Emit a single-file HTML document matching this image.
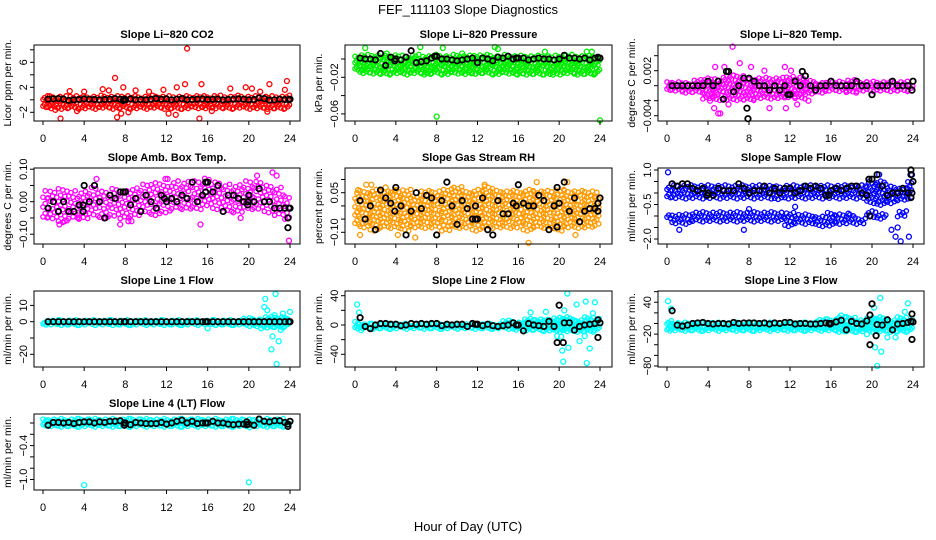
<!DOCTYPE html>
<html><head><meta charset="utf-8">
<style>
html,body{margin:0;padding:0;background:#fff;}
svg{display:block;font-family:"Liberation Sans",sans-serif;}
</style></head>
<body>
<svg id="chart" width="936" height="540" viewBox="0 0 936 540">
<text x="468" y="14" text-anchor="middle" font-size="13">FEF_111103  Slope Diagnostics</text>
<text x="468" y="531" text-anchor="middle" font-size="13">Hour of Day (UTC)</text>
</svg>
<script>
// ---------- data ----------
const xTicks = [0,4,8,12,16,20,24];
const binHours = [0,1,2,3,4,5,6,7,8,9,10,11,12,13,14,15,16,17,18,19,20,21,22,23,24];
const meanHours = [0.5,1,1.5,2,2.5,3,3.5,4,4.5,5,5.5,6,6.5,7,7.5,8,8.5,9,9.5,10,10.5,11,11.5,12,12.5,13,13.5,14,14.5,15,15.5,16,16.5,17,17.5,18,18.5,19,19.5,20,20.5,21,21.5,22,22.5,23,23.5,24];

// Panel 1: CO2
const p1Lo = [-1.2,-1.3,-1.3,-1.2,-1.3,-1.3,-1.2,-1.3,-1.2,-1.3,-1.3,-1.2,-1.3,-1.3,-1.3,-1.2,-1.3,-1.2,-1.3,-1.2,-1.3,-1.3,-1.3,-1.3,-1.2];
const p1Hi = [0.8,0.9,0.9,0.8,0.9,0.9,1.0,0.9,0.9,0.9,0.9,0.9,1.0,1.0,0.9,0.9,0.9,0.9,0.8,0.9,0.9,0.9,0.9,1.0,0.8];
const p1OutX = [14,1.7,15.2,7,23.7,22,13.8,7.8,7.2,12.2,2.6,19.7,9,1.2,4,5.8,6.4,10.3,13,15.4,18.2,21.1,23.5,8.3,3.3,16.4,11.7,20.3,7.6,21.8,12.9];
const p1OutY = [8.2,-3.0,-3.0,3.5,3.0,2.5,2.5,2.0,-2.8,-2.2,1.4,2.0,1.5,-1.6,1.3,1.7,1.5,1.3,2.0,2.5,1.8,1.3,1.6,-2.0,-1.8,-1.8,1.6,1.8,-2.2,-1.9,-2.4];
const p1Mean = [0.1,0.15,0.2,0.1,-0.1,0,0.05,0.15,0.1,0.05,0,0.05,0.1,0.2,0.1,0,0.15,0,0.05,0,0.1,0.2,0.1,0.15,0,0.1,0.2,0,0.05,0.1,0.15,0.05,0.1,0.1,0,0.05,0.1,0.15,0.1,0,0.05,0.3,0.2,-0.05,0,0.1,0.05,0.1];
const p1ExX = [7.8,7.9,23.9];
const p1ExY = [-0.1,0.1,0.0];

// Panel 2: Pressure
const p2Lo = [-0.012,-0.015,-0.015,-0.016,-0.015,-0.016,-0.015,-0.016,-0.015,-0.016,-0.015,-0.016,-0.015,-0.015,-0.016,-0.015,-0.016,-0.016,-0.016,-0.016,-0.016,-0.015,-0.016,-0.016,-0.014];
const p2Hi = [0.003,0.005,0.005,0.005,0.005,0.005,0.006,0.006,0.006,0.005,0.005,0.005,0.005,0.005,0.006,0.005,0.005,0.006,0.006,0.005,0.005,0.005,0.005,0.006,0.004];
const p2OutX = [1,6.4,8.6,13.7,14,18.6,22.7,23.2,0.7,7,8,24,11.8,15.9,19.4,21.5,23.5,3.1,10.5];
const p2OutY = [0.012,0.013,0.012,0.013,0.011,0.008,0.008,0.008,-0.012,-0.015,-0.063,-0.067,-0.016,-0.017,-0.017,-0.016,-0.016,0.006,0.006];
const p2Mean = [0.001,0,0,-0.001,0.006,-0.007,0.002,0,-0.001,0.002,0.009,-0.004,-0.003,-0.002,0.001,0.003,0,0,-0.001,-0.002,-0.001,0,0.001,-0.004,0.001,0,-0.002,0.002,0.001,0.003,0,0.001,0.001,-0.001,0,0.001,0,0,-0.001,0,0.004,0.001,0.001,0,0.001,-0.001,0.001,0.001];
const p2ExX = [3.9,7.8,15.8,23.8];
const p2ExY = [-0.002,0.003,0.001,0.002];

// Panel 3: Li-820 Temp
const p3Lo = [-0.0006,-0.0006,-0.0008,-0.0008,-0.0016,-0.0018,-0.0018,-0.0018,-0.0018,-0.0016,-0.0016,-0.0016,-0.0014,-0.0016,-0.001,-0.0008,-0.0006,-0.0006,-0.0008,-0.0006,-0.0006,-0.0006,-0.0006,-0.0006,-0.0004];
const p3Hi = [0.0006,0.0006,0.0006,0.0008,0.0012,0.0012,0.0014,0.0014,0.0012,0.0012,0.0012,0.0012,0.0014,0.0014,0.001,0.0006,0.0006,0.0006,0.0008,0.0006,0.0006,0.0006,0.0006,0.0006,0.0006];
const p3OutX = [6.4,7.1,4.7,8.2,5.6,11.5,4.6,5.0,5.2,10,11.6,12.7,13.8,6,4.2,9.5,12.1];
const p3OutY = [0.0052,0.003,0.0025,0.0025,0.0025,0.0025,-0.003,-0.0037,-0.0037,-0.003,-0.003,-0.0025,-0.002,-0.0025,-0.002,0.002,0.002];
const p3Mean = [0,0,0,0,0,0,0,0.0006,0,0.0006,-0.0018,0.0019,-0.0008,0,0.001,0.001,0.0006,0,0,-0.0006,0,-0.0006,0,-0.0012,0.0006,0,0.0013,0,-0.0006,0,0,0.0006,0,0,0,0,0.0006,0,0,-0.0012,0,0,0,0.0006,0,0,0,0.0006];
const p3ExX = [7.8,7.9,11.8,23.9,5.8,13.2];
const p3ExY = [-0.003,-0.0044,-0.0012,-0.0006,0.0019,0.0019];

// Panel 4: Amb Box Temp
const p4Lo = [-0.05,-0.05,-0.06,-0.05,-0.05,-0.04,-0.05,-0.04,-0.05,-0.04,-0.03,-0.04,-0.03,-0.02,-0.02,-0.02,-0.01,-0.02,-0.03,-0.03,-0.02,-0.02,-0.03,-0.04,-0.05];
const p4Hi = [0.03,0.03,0.04,0.04,0.03,0.04,0.04,0.05,0.04,0.05,0.05,0.06,0.06,0.07,0.07,0.07,0.08,0.06,0.05,0.05,0.06,0.07,0.05,0.04,0.02];
const p4OutX = [5.2,1.6,2.1,7.5,8.3,8.6,15.3,12.1,11.9,19.2,20.8,22.3,22.7,23.9,6.1,3.5];
const p4OutY = [0.07,-0.07,-0.06,-0.07,-0.06,-0.06,-0.07,0.07,0.07,-0.05,0.08,0.09,0.08,-0.12,-0.05,-0.05];
const p4Mean = [-0.02,0.0,-0.03,0.0,-0.03,-0.03,-0.01,0.05,0.0,0.05,0.0,-0.05,0.02,0.01,0.03,0.03,-0.01,0.01,-0.03,0.02,0.0,-0.02,0.02,0.0,0.01,0.0,0.02,0.01,0.06,0.0,0.02,0.06,0.03,0.05,-0.03,0.02,0.02,0.01,0.0,0.02,0.0,0.04,0.0,0.0,-0.02,-0.02,-0.02,-0.02];
const p4ExX = [23.8,23.8,23.9,11.8,15.8,15.8,7.8,3.9,3.9,19.9,19.9];
const p4ExY = [-0.08,-0.05,-0.02,0.01,0.03,0.06,0.03,-0.01,-0.03,0.0,-0.01];

// Panel 5: Gas Stream RH
const p5Lo = [-0.07,-0.08,-0.09,-0.08,-0.08,-0.09,-0.08,-0.08,-0.08,-0.09,-0.08,-0.08,-0.09,-0.08,-0.08,-0.08,-0.08,-0.09,-0.08,-0.08,-0.09,-0.08,-0.08,-0.08,-0.07];
const p5Hi = [0.05,0.06,0.06,0.06,0.06,0.06,0.05,0.06,0.06,0.06,0.07,0.06,0.06,0.07,0.06,0.06,0.06,0.06,0.06,0.06,0.07,0.06,0.06,0.06,0.05];
const p5OutX = [0.5,1.1,1.6,4.2,5.9,17.8,17,20.8,12.7,0.3,3,4,21.6];
const p5OutY = [-0.11,0.08,0.08,-0.11,-0.12,0.09,-0.14,0.09,0.08,0.06,0.07,0.06,-0.11];
const p5Mean = [0.02,-0.05,0.0,-0.09,0.06,0.03,0.01,0.07,0.0,-0.11,-0.02,0.05,-0.01,0.04,0.03,-0.11,0.02,0.09,0.0,-0.07,0.02,-0.01,-0.05,-0.05,0.03,-0.09,-0.11,0.02,-0.03,-0.03,0.01,0.08,0.01,0.0,0.0,0.04,0.02,-0.09,0.0,0.01,0.09,-0.02,0.03,-0.06,-0.02,-0.01,-0.01,0.03];
const p5ExX = [11.8,11.8,19.8,19.8,23.8,23.8,15.8,3.9];
const p5ExY = [-0.05,0.0,-0.08,0.07,0.01,-0.02,0.0,-0.02];

// Panel 6: Sample Flow (two clusters)
const p6Lo = [-0.2,-0.2,-0.2,-0.2,-0.2,-0.2,-0.2,-0.2,-0.2,-0.2,-0.2,-0.25,-0.2,-0.2,-0.2,-0.2,-0.2,-0.2,-0.2,-0.2,-0.4,-0.5,-0.4,-0.3,-0.2];
const p6Hi = [0.4,0.35,0.35,0.35,0.35,0.35,0.35,0.35,0.35,0.35,0.35,0.35,0.45,0.35,0.35,0.4,0.35,0.4,0.4,0.35,0.5,0.5,0.3,0.2,0.6];
const p6Lo2 = [-1.1,-1.3,-1.3,-1.2,-1.2,-1.2,-1.2,-1.2,-1.2,-1.2,-1.2,-1.2,-1.4,-1.3,-1.3,-1.4,-1.4,-1.3,-1.3,-1.3,-1.0,-1.1,null,-1.0,null];
const p6Hi2 = [-0.85,-0.85,-0.9,-0.85,-0.85,-0.85,-0.85,-0.85,-0.8,-0.85,-0.85,-0.8,-0.75,-0.9,-0.95,-1.0,-0.85,-0.85,-0.9,-1.0,-0.7,-0.8,null,-0.8,null];
const p6OutX = [22.3,22.8,23.6,21.9,23.9,19.7,0.1,20.7,1.2,7.5,12.5,17.7,22.5,8];
const p6OutY = [-1.9,-2.1,-1.9,-1.6,0.8,0.6,0.9,0.8,-1.6,-1.6,-0.6,-0.9,-1.5,-0.7];
const p6Mean = [0.4,0.3,0.4,0.4,0.2,0.1,0.2,0.0,-0.1,0.2,0.1,0.1,0.1,0.4,0.2,0.0,0.1,0.1,0.3,0.0,0.2,0.0,0.2,0.2,0.0,0.1,0.3,0.2,0.3,0.2,-0.1,0.1,0.2,0.1,0.2,0.3,0.3,0.0,-0.1,0.6,0.8,0.3,-0.1,0.0,0.0,0.2,0.0,0.5];
const p6ExX = [19.8,19.7,23.8,23.8,23.8,23.9,3.9,15.8];
const p6ExY = [-1.0,0.6,1.0,0.8,-0.2,0.0,-0.1,-0.1];

// Panel 7: Line 1 Flow
const p7Lo = [-2,-1.5,-1.5,-1.5,-1.5,-1.5,-1.5,-1.5,-1.5,-1.5,-1.5,-1.5,-1.5,-1.5,-1.5,-1.5,-1.5,-1.5,-1.5,-1.5,-2,-2.5,-3,-3,-2];
const p7Hi = [1.5,1.5,1.5,1.5,1.5,1.5,1.5,1.5,1.5,1.5,1.5,1.5,1.5,1.5,1.5,1.5,1.5,1.5,1.5,1.5,2,2.5,3,3,2];
const p7OutX = [21.5,21.6,22.6,21.8,22.2,22.7,22.3,22.9,23.1,23.3,24,16,21.2,22.5,23.6];
const p7OutY = [9,14,17,7,-17,-26,-9,-12,-5,5,6,-4,-4,4,2];
const p7Mean = [0,0,0,0,0,0,0,0,0,0,0,0,0,0,0,0,0,0,0,0,0,0,0,0,0,0,0,0,0,0,0,0,0,0,0,0,0,0,0,0,0,0,0,0,0,0,0,0];
const p7ExX = [7.9,15.8,23.9];
const p7ExY = [0,0,0];

// Panel 8: Line 2 Flow
const p8Lo = [-5,-4,-4,-4,-4,-4,-4,-4,-4,-4,-4,-4,-4,-4,-4,-4,-6,-6,-6,-7,-8,-8,-8,-8,-6];
const p8Hi = [5,4,4,4,4,4,4,4,4,4,4,4,4,4,4,5,7,8,8,9,10,10,9,10,8];
const p8OutX = [0.2,0.4,20.8,21.7,22.6,23.5,20.5,18.7,17.2,20.4,22.7,20.3,23,20.9,19.8,20.2,22,22.5,0.6,23.3];
const p8OutY = [28,17,43,28,32,31,20,18,17,-50,-52,-35,-32,-31,-15,-16,-22,-15,-7,16];
const p8Mean = [10,-2,-5,0,2,2,1,1,-1,0,2,1,2,1,2,2,-1,1,0,1,1,-2,2,1,-1,1,-1,-2,-1,0,3,0,-8,2,0,-1,-2,5,-2,27,3,3,-7,-2,0,1,2,3];
const p8ExX = [19.8,20.4,23.8,23.8,15.8,11.8];
const p8ExY = [-24,-24,-17,7,0,1];

// Panel 9: Line 3 Flow
const p9Lo = [-14,-12,-12,-12,-12,-12,-12,-12,-12,-12,-12,-12,-12,-12,-12,-12,-12,-14,-14,-14,-14,-14,-14,-14,-12];
const p9Hi = [6,6,6,6,6,6,6,6,6,6,6,6,6,6,6,7,8,12,12,10,12,12,10,12,10];
const p9OutX = [0.1,0.4,20.8,20.5,20.3,20.9,23.5,17,20.2,22.3,19.5,23.2,21.5];
const p9OutY = [42,28,48,-80,-45,-53,38,15,30,-26,-20,22,-26];
const p9Mean = [24,-3,-5,-3,0,1,2,0,-1,0,0,-1,2,0,1,1,1,0,1,-1,1,0,2,2,-1,0,0,-1,-1,0,1,0,3,6,-12,4,0,-1,5,37,-2,-3,7,-12,-1,0,2,3];
const p9ExX = [19.8,19.8,20.4,23.9,23.9,23.8,15.8,15.9];
const p9ExY = [-40,16,-23,-30,18,4,0,-1];

// Panel 10: Line 4 (LT) Flow
const p10Lo = [-0.05,-0.05,-0.05,-0.05,-0.05,-0.05,-0.05,-0.05,-0.05,-0.05,-0.05,-0.05,-0.05,-0.05,-0.05,-0.05,-0.05,-0.05,-0.05,-0.05,-0.06,-0.05,-0.05,-0.05,-0.04];
const p10Hi = [0.06,0.06,0.06,0.06,0.07,0.06,0.07,0.06,0.06,0.06,0.06,0.06,0.06,0.07,0.06,0.06,0.06,0.06,0.06,0.06,0.08,0.07,0.08,0.07,0.05];
const p10OutX = [4,20];
const p10OutY = [-1.1,-1.05];
const p10Mean = [-0.04,0.01,0.01,0.0,0.01,-0.01,0.01,0.02,0.02,0.0,0.02,0.01,0.03,0.03,0.04,0.0,-0.03,0.01,0.0,-0.01,-0.01,-0.01,0.01,-0.02,0.0,0.03,0.05,0.0,0.03,-0.01,0.0,0.0,0.03,0.0,0.0,-0.02,-0.03,-0.02,-0.02,-0.02,-0.04,0.07,0.03,0.02,0.04,0.04,0.01,0.03];
const p10ExX = [23.8,23.8,19.8,19.8,15.8,7.9,7.9];
const p10ExY = [-0.06,-0.02,-0.03,0.02,0.0,0.0,-0.04];

// ---------- layout ----------
const NS = 'http://www.w3.org/2000/svg';
const svg = document.getElementById('chart');
const cols = [{bx0:34,bx1:300,x0:43,x1:290},{bx0:345,bx1:612,x0:355,x1:600},{bx0:658,bx1:924,x0:667,x1:913}];
const rows = [{y0:45,y1:121},{y0:168,y1:244},{y0:291,y1:367},{y0:414,y1:490}];

function mk(tag, attrs, parent){
  const e = document.createElementNS(NS, tag);
  for (const k in attrs) e.setAttribute(k, attrs[k]);
  (parent||svg).appendChild(e);
  return e;
}
function fmt(v){ return String(v).replace('-', '\u2212'); }

const panels = [
 {slug:'co2',title:'Slope Li\u2212820 CO2',ylab:'Licor ppm per min.',c:0,r:0,zero:99.8,k:6.25,ticks:[-2,0,2,4,6,8],labels:['-2','2','6'],col:'#ff0000',lo:p1Lo,hi:p1Hi,ox:p1OutX,oy:p1OutY,mean:p1Mean,ex:p1ExX,ey:p1ExY,sx:0.3,sy:3.6},
 {slug:'pressure',title:'Slope Li\u2212820 Pressure',ylab:'kPa per min.',c:1,r:0,zero:59,k:915,ticks:[0,-0.02,-0.04,-0.06],labels:['-0.02','-0.06'],col:'#00ee00',lo:p2Lo,hi:p2Hi,ox:p2OutX,oy:p2OutY,mean:p2Mean,ex:p2ExX,ey:p2ExY,sx:0.3,sy:3.4},
 {slug:'li820-temp',title:'Slope Li\u2212820 Temp.',ylab:'degrees C per min.',c:2,r:0,zero:85.7,k:7500,ticks:[0.004,0.002,0,-0.002,-0.004],labels:['0.002','-0.004'],col:'#ff00ff',lo:p3Lo,hi:p3Hi,ox:p3OutX,oy:p3OutY,mean:p3Mean,ex:p3ExX,ey:p3ExY,sx:0.32,sy:3.8},
 {slug:'amb-box-temp',title:'Slope Amb. Box Temp.',ylab:'degrees C per min.',c:0,r:1,zero:201.7,k:325,ticks:[0.1,0.05,0,-0.05,-0.1],labels:['0.10','0.00','-0.10'],col:'#ff00ff',lo:p4Lo,hi:p4Hi,ox:p4OutX,oy:p4OutY,mean:p4Mean,ex:p4ExX,ey:p4ExY,sx:0.42,sy:5.2},
 {slug:'gas-stream-rh',title:'Slope Gas Stream RH',ylab:'percent per min.',c:1,r:1,zero:205.9,k:264,ticks:[0.1,0.05,0,-0.05,-0.1],labels:['0.05','-0.10'],col:'#ff9900',lo:p5Lo,hi:p5Hi,ox:p5OutX,oy:p5OutY,mean:p5Mean,ex:p5ExX,ey:p5ExY,sx:0.38,sy:4.4},
 {slug:'sample-flow',title:'Slope Sample Flow',ylab:'ml/min per min.',c:2,r:1,zero:193,k:23,ticks:[1,0.5,0,-0.5,-1,-1.5,-2],labels:['1.0','-0.5','-2.0'],col:'#0000ff',lo:p6Lo,hi:p6Hi,lo2:p6Lo2,hi2:p6Hi2,ox:p6OutX,oy:p6OutY,mean:p6Mean,ex:p6ExX,ey:p6ExY,sx:0.34,sy:3.8},
 {slug:'line1-flow',title:'Slope Line 1 Flow',ylab:'ml/min per min.',c:0,r:2,zero:321.7,k:1.63,ticks:[10,0,-10,-20],labels:['10','0','-20'],col:'#00ffff',lo:p7Lo,hi:p7Hi,ox:p7OutX,oy:p7OutY,mean:p7Mean,ex:p7ExX,ey:p7ExY,sx:0.28,sy:3},
 {slug:'line2-flow',title:'Slope Line 2 Flow',ylab:'ml/min per min.',c:1,r:2,zero:325,k:0.7325,ticks:[40,20,0,-20,-40],labels:['40','0','-40'],col:'#00ffff',lo:p8Lo,hi:p8Hi,ox:p8OutX,oy:p8OutY,mean:p8Mean,ex:p8ExX,ey:p8ExY,sx:0.28,sy:3.2},
 {slug:'line3-flow',title:'Slope Line 3 Flow',ylab:'ml/min per min.',c:2,r:2,zero:323.5,k:0.531,ticks:[60,40,20,0,-20,-40,-60,-80],labels:['40','-20','-80'],col:'#00ffff',lo:p9Lo,hi:p9Hi,ox:p9OutX,oy:p9OutY,mean:p9Mean,ex:p9ExX,ey:p9ExY,sx:0.28,sy:3.2},
 {slug:'line4-flow',title:'Slope Line 4 (LT) Flow',ylab:'ml/min per min.',c:0,r:3,zero:423,k:56.5,ticks:[0,-0.2,-0.4,-0.6,-0.8,-1.0],labels:['-0.4','-1.0'],col:'#00ffff',lo:p10Lo,hi:p10Hi,ox:p10OutX,oy:p10OutY,mean:p10Mean,ex:p10ExX,ey:p10ExY,sx:0.28,sy:3}
];

panels.forEach(p => {
  const C = cols[p.c], R = rows[p.r];
  const xs = h => C.x0 + (C.x1 - C.x0) * h / 24;
  const ys = v => p.zero - v * p.k;
  const g = mk('g', {});
  
  

  const t = mk('text', {x:(C.bx0+C.bx1)/2, y:R.y0-7, 'text-anchor':'middle', 'font-size':11, 'font-weight':'bold'}, g);
  t.textContent = p.title;
  
  

  const pts = mk('g', {fill:'none', stroke:p.col, 'stroke-width':1.3}, g);
  
  
  const drawBand = (lo, hi) => {
    binHours.forEach((h, i) => {
      if (lo[i] == null) return;
      const a = Math.max(0, h - 0.5), b = Math.min(24, h + 0.5);
      const yTop = ys(hi[i]), yBot = ys(lo[i]);
      let row = 0;
      for (let y = yBot; y >= yTop - 0.01; y -= p.sy, row++) {
        const off = (row % 2) * p.sx / 2;
        let ix = 0;
        for (let x = a + off; x <= b; x += p.sx, ix++) {
          const jit = (((ix * 7 + row * 3 + i) % 5) - 2) * 0.6;
          const c = mk('circle', {cx:xs(x).toFixed(1), cy:(y + jit).toFixed(1), r:2.2}, pts);
          
          
        }
      }
    });
  };
  drawBand(p.lo, p.hi);
  if (p.lo2) drawBand(p.lo2, p.hi2);
  p.ox.forEach((x, i) => {
    const c = mk('circle', {cx:xs(x), cy:ys(p.oy[i]), r:2.5}, pts);
    
    
  });

  const mg = mk('g', {fill:'none', stroke:'#000', 'stroke-width':1.8}, g);
  
  
  meanHours.forEach((h, i) => {
    const c = mk('circle', {cx:xs(h), cy:ys(p.mean[i]), r:2.7}, mg);
    
    
  });
  p.ex.forEach((h, i) => {
    const c = mk('circle', {cx:xs(h), cy:ys(p.ey[i]), r:2.7}, mg);
    
    
  });

  const fr = mk('rect', {x:C.bx0, y:R.y0, width:C.bx1-C.bx0, height:R.y1-R.y0, fill:'none', stroke:'#000', 'stroke-width':1}, g);
  
  

  const xa = mk('g', {}, g);
  
  
  xTicks.forEach(h => {
    mk('line', {x1:xs(h), x2:xs(h), y1:R.y1, y2:R.y1+4, stroke:'#000'}, xa);
    const tl = mk('text', {x:xs(h), y:R.y1+21, 'text-anchor':'middle', 'font-size':11}, xa);
    tl.textContent = String(h);
    
    
  });

  const ya = mk('g', {}, g);
  
  
  p.ticks.forEach(v => {
    mk('line', {x1:C.bx0-4, x2:C.bx0, y1:ys(v), y2:ys(v), stroke:'#000'}, ya);
  });
  p.labels.forEach(s => {
    const v = parseFloat(s);
    const tx = C.bx0 - 7, ty = ys(v);
    const tl = mk('text', {x:tx, y:ty, 'text-anchor':'middle', 'font-size':11, transform:`rotate(-90 ${tx} ${ty})`}, ya);
    tl.textContent = fmt(s);
    
    
  });
  const lx = C.bx0 - 23, ly = (R.y0 + R.y1) / 2;
  const yl = mk('text', {x:lx, y:ly, 'text-anchor':'middle', 'font-size':10.5, transform:`rotate(-90 ${lx} ${ly})`}, g);
  yl.textContent = p.ylab;
  
  
});
</script>
</body></html>
